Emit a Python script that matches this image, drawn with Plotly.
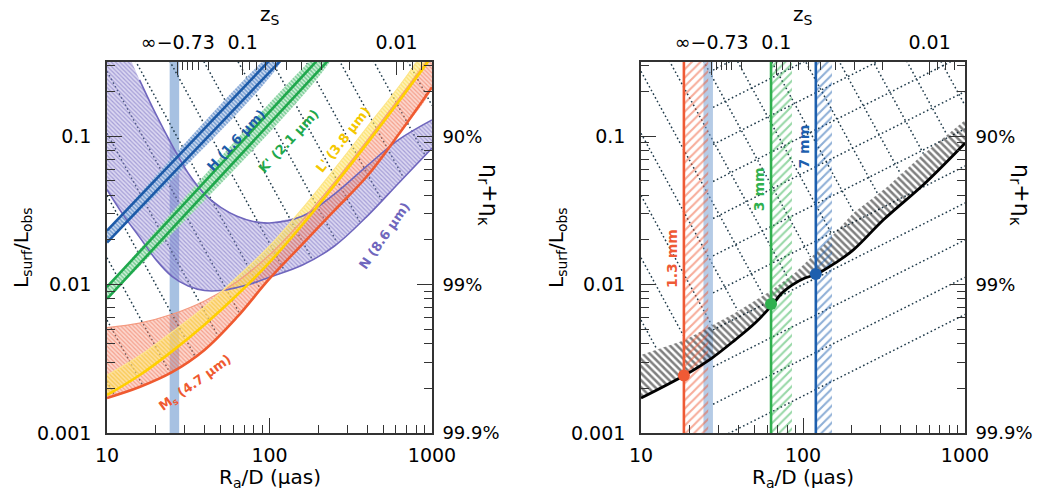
import numpy as np
import plotly.graph_objects as go

# ------------------------------------------------------------------ data
# left panel: band edges (R_a/D in micro-arcsec, L_surf/L_obs)
BAND_X = [10.0, 15.85, 25.12, 39.81, 63.10, 100.0, 158.5, 251.2, 398.1, 631.0, 1000.0]
MS_LOWER = [0.00172, 0.00204, 0.00257, 0.00363, 0.00603, 0.01096, 0.01862, 0.03162, 0.0537, 0.1047, 0.2138]
MS_UPPER = [0.00513, 0.00550, 0.00631, 0.00776, 0.01047, 0.01585, 0.02692, 0.04898, 0.0933, 0.1820, 0.3548]
LP_LOWER = [0.00180, 0.00245, 0.00355, 0.00537, 0.00851, 0.01413, 0.02512, 0.04677, 0.0891, 0.1738, 0.3467]
LP_UPPER = [0.00245, 0.00331, 0.00479, 0.00708, 0.01122, 0.01820, 0.03236, 0.06026, 0.1148, 0.2188, 0.4365]

N_X = [10.0, 12.59, 15.85, 19.95, 25.12, 31.62, 39.81, 50.12, 63.10, 79.43, 100.0, 158.5, 251.2, 398.1, 631.0, 1000.0]
N_OUTER = [0.04365, 0.02951, 0.02089, 0.01479, 0.01135, 0.00977, 0.00912, 0.00912, 0.00955, 0.01023, 0.01122,
           0.01349, 0.01820, 0.02884, 0.04898, 0.08318]
N_INNER = [0.7244, 0.4266, 0.2399, 0.1413, 0.0871, 0.05623, 0.04074, 0.03311, 0.02884, 0.02661, 0.02600,
           0.02884, 0.04074, 0.06310, 0.09550, 0.1288]

H_X = [10.0, 120.0]
H_LOWER = [0.01919, 0.3327]
H_UPPER = [0.02307, 0.3999]
K_X = [10.0, 250.0]
K_LOWER = [0.00802, 0.3581]
K_UPPER = [0.00964, 0.4305]

BLUE_BAND = [24.3, 27.8]

# right panel
CURVE_X = [10.0, 18.7, 27.4, 38.0, 50.6, 64.4, 74.1, 85.5, 102.8, 121.9, 157.8, 203.7, 316.2, 562.3, 1000.0]
CURVE_Y = [0.00172, 0.00246, 0.00320, 0.00423, 0.00551, 0.00728, 0.00877, 0.00993, 0.01107, 0.01178, 0.01396,
           0.01706, 0.02754, 0.04786, 0.0897]
HATCH_X = [10.0, 18.7, 38.0, 64.4, 89.3, 130.9, 203.7, 330.4, 527.2, 1000.0]
HATCH_UPPER = [0.00335, 0.00423, 0.00643, 0.00918, 0.01202, 0.01791, 0.03027, 0.04539, 0.07228, 0.1282]

MM_LABELS = ["1.3 mm", "3 mm", "7 mm"]
MM_LINE_X = [18.4, 63.5, 120.0]
MM_HATCH_END = [26.0, 85.5, 151.0]
MM_DOT_Y = [0.00244, 0.0074, 0.01178]
MM_LABEL_Y = [0.0151, 0.0440, 0.085]
MM_COLORS = ["#ef5a35", "#2fb04e", "#1d5fae"]

# dotted guide lines
STEEP_X_TOP = [0.84, 1.35, 2.19, 3.55, 5.75, 9.3, 15.1, 24.5, 39.6, 64.2, 104, 168, 272, 440, 714, 1157]
STEEP_SLOPE = -2.0
SHALLOW_Y_RIGHT = [2.0, 1.12, 0.63, 0.355, 0.2, 0.112, 0.063, 0.0355, 0.02, 0.0112, 0.0063]
SHALLOW_SLOPE = 0.55
SHALLOW_X_START = 27.8

# top (redshift) axis
Z_MAJOR_X = [27.3, 68.4, 605.0]
Z_MAJOR_TEXT = ["\u221e\u22120.73", "0.1", "0.01"]
Z_MINOR_X = [29.35, 31.5, 33.8, 36.4, 41.96, 75.0, 83.3, 93.9, 108.1, 128.1, 158.1, 208.2, 308.5, 672.0, 756.0, 862.0]

Y_TICKS = [0.001, 0.01, 0.1]
Y_TEXT = ["0.001", "0.01", "0.1"]
ETA_TEXT = ["99.9%", "99%", "90%"]
X_TICKS = [10, 100, 1000]

# band labels: text, x, y, angle, colour
BAND_LABELS = [
    ("H (1.6 \u03bcm)", 61.8, 0.094, -47, "#1c5aa8"),
    ("K' (2.1 \u03bcm)", 130.0, 0.0925, -47, "#1fa84c"),
    ("L' (3.8 \u03bcm)", 283.0, 0.0955, -52, "#f5c800"),
    ("N (8.6 \u03bcm)", 509.0, 0.0215, -55, "#6f66bd"),
    ("M<sub>s</sub> (4.7 \u03bcm)", 35.0, 0.00215, -36, "#ef5a30"),
]

# ------------------------------------------------------------------ helpers
W, H = 1037, 498
LREF = 10 ** -0.5
FONT = "DejaVu Sans"
DOT = "#1f3a4a"
DOTDASH = "1.6px,2.6px"


def ilog(xq, xp, yp):
    return 10 ** np.interp(np.log10(xq), np.log10(xp), np.log10(yp))


lx = np.linspace(1, 3, 500)
xs = 10 ** lx

fig = go.Figure()


def add(tr, panel):
    if panel == 1:
        tr.update(xaxis="x", yaxis="y")
    else:
        tr.update(xaxis="x2", yaxis="y2")
    tr.update(showlegend=False, hoverinfo="skip")
    fig.add_trace(tr)


def poly(x, y, fg, bg, panel, shape="\\", size=4, sol=0.35, spline=True):
    add(go.Scatter(x=x, y=y, mode="lines", fill="toself",
                   line=dict(width=0, shape="spline" if spline else "linear"),
                   fillcolor=bg,
                   fillpattern=dict(shape=shape, fgcolor=fg, bgcolor=bg, size=size, solidity=sol)), panel)


def band(xp, lo, hi, fg, bg, panel, **kw):
    poly(list(xp) + list(xp)[::-1], list(lo) + list(hi)[::-1], fg, bg, panel, **kw)


def edge(xp, yp, color, width, panel):
    add(go.Scatter(x=xp, y=yp, mode="lines",
                   line=dict(color=color, width=width, shape="spline")), panel)


def dotted(segs, panel):
    xx, yy = [], []
    for sx, sy in segs:
        xx += list(sx) + [None]
        yy += list(sy) + [None]
    add(go.Scatter(x=xx, y=yy, mode="lines", connectgaps=False,
                   line=dict(color=DOT, width=1.5, dash=DOTDASH)), panel)


# ------------------------------------------------------------------ left panel
add(go.Scatter(x=[BLUE_BAND[0], BLUE_BAND[1], BLUE_BAND[1], BLUE_BAND[0]], y=[1e-4, 1e-4, 10, 10],
               mode="lines", fill="toself", line=dict(width=0), fillcolor="rgba(120,160,210,0.65)"), 1)

env = np.minimum(np.minimum(ilog(xs, BAND_X, MS_LOWER), ilog(xs, BAND_X, LP_LOWER)), ilog(xs, N_X, N_OUTER))
segs = []
for xt in STEEP_X_TOP:
    y = LREF * (xs / xt) ** STEEP_SLOPE
    y = np.where(y < env, np.nan, y)
    segs.append((xs, y))
dotted(segs, 1)

poly(list(N_X) + list(N_X)[::-1], list(N_OUTER) + list(N_INNER)[::-1],
     "#6f66bd", "rgba(150,140,215,0.35)", 1, size=3, sol=0.4, spline=False)
band(BAND_X, MS_LOWER, MS_UPPER, "#ee6a4a", "rgba(245,140,115,0.35)", 1, size=3, sol=0.4)
band(BAND_X, LP_LOWER, LP_UPPER, "#f8d22a", "rgba(255,230,120,0.55)", 1, size=3, sol=0.4)
band(H_X, H_LOWER, H_UPPER, "#1f5fae", "rgba(200,215,240,0.9)", 1, size=3, sol=0.5)
band(K_X, K_LOWER, K_UPPER, "#22a650", "rgba(205,240,215,0.9)", 1, size=3, sol=0.5)

edge(N_X, N_OUTER, "#6f66bd", 1.6, 1)
edge(N_X[2:], N_INNER[2:], "#6f66bd", 1.6, 1)
edge(BAND_X, MS_UPPER, "#f49a80", 1.2, 1)
edge(BAND_X, LP_UPPER, "#fde58a", 1.2, 1)
edge(BAND_X, MS_LOWER, "#ef5a30", 2.6, 1)
edge(BAND_X, LP_LOWER, "#ffd000", 2.6, 1)
for xp, yl, yu, c in [(H_X, H_LOWER, H_UPPER, "#1c5aa8"), (K_X, K_LOWER, K_UPPER, "#1fa84c")]:
    edge(xp, yl, c, 2.6, 1)
    edge(xp, yu, c, 2.6, 1)

# ------------------------------------------------------------------ right panel
segs = []
for yr in SHALLOW_Y_RIGHT:
    y = yr * (xs / 1000.0) ** SHALLOW_SLOPE
    y = np.where(xs < SHALLOW_X_START, np.nan, y)
    segs.append((xs, y))
dotted(segs, 2)
env2 = ilog(xs, HATCH_X, HATCH_UPPER)
segs = []
for xt in STEEP_X_TOP:
    y = LREF * (xs / xt) ** STEEP_SLOPE
    y = np.where(y < env2, np.nan, y)
    segs.append((xs, y))
dotted(segs, 2)

add(go.Scatter(x=[BLUE_BAND[0], BLUE_BAND[1], BLUE_BAND[1], BLUE_BAND[0]], y=[1e-4, 1e-4, 10, 10],
               mode="lines", fill="toself", line=dict(width=0), fillcolor="rgba(120,160,210,0.55)"), 2)

hx = list(CURVE_X) + list(HATCH_X)[::-1]
hy = list(CURVE_Y) + list(HATCH_UPPER)[::-1]
add(go.Scatter(x=hx, y=hy, mode="lines", fill="toself", line=dict(width=0),
               fillcolor="rgba(0,0,0,0)",
               fillpattern=dict(shape="\\", fgcolor="#000000", bgcolor="rgba(0,0,0,0)", size=5, solidity=0.5)), 2)

for x0, x1, c in zip(MM_LINE_X, MM_HATCH_END, MM_COLORS):
    add(go.Scatter(x=[x0, x1, x1, x0], y=[1e-4, 1e-4, 10, 10], mode="lines", fill="toself",
                   line=dict(width=0), fillcolor="rgba(0,0,0,0)",
                   fillpattern=dict(shape="/", fgcolor=c, bgcolor="rgba(0,0,0,0)", size=6, solidity=0.35)), 2)
    add(go.Scatter(x=[x0, x0], y=[1e-4, 10], mode="lines", line=dict(color=c, width=2.6)), 2)

edge(CURVE_X, CURVE_Y, "#000000", 2.8, 2)
add(go.Scatter(x=MM_LINE_X, y=MM_DOT_Y, mode="markers",
               marker=dict(size=12, color=MM_COLORS, line=dict(width=0))), 2)

for xa, ya in [("x3", "y"), ("x", "y3"), ("x4", "y2"), ("x2", "y4")]:
    fig.add_trace(go.Scatter(x=[None], y=[None], xaxis=xa, yaxis=ya, showlegend=False, hoverinfo="skip"))

# ------------------------------------------------------------------ axes
tickfont = dict(family=FONT, size=19, color="black")
LC = "#333333"
x_minor = [v * m for v in (10, 100) for m in range(2, 10)]
y_minor = [v * m for v in (0.001, 0.01, 0.1) for m in range(2, 10)]
common = dict(type="log", showgrid=False, zeroline=False, automargin=False, showline=True, linecolor=LC,
              linewidth=1.6, tickcolor=LC, tickwidth=1.4, ticks="inside", tickfont=tickfont)


def minor(vals):
    return dict(tickmode="array", tickvals=vals, ticks="inside", ticklen=8, tickcolor=LC, tickwidth=1.3,
                showgrid=False)


def xaxis_bottom(dom, anchor):
    return dict(common, domain=dom, anchor=anchor, range=[1, 3], tickvals=X_TICKS,
                ticktext=[str(v) for v in X_TICKS], ticklen=15, ticklabelstandoff=4, minor=minor(x_minor))


def xaxis_top(over, anchor):
    return dict(common, overlaying=over, anchor=anchor, side="top", range=[1, 3], tickvals=Z_MAJOR_X,
                ticktext=Z_MAJOR_TEXT, ticklen=13, ticklabelstandoff=4, minor=minor(Z_MINOR_X))


def yaxis_left(dom, anchor):
    return dict(common, domain=dom, anchor=anchor, range=[-3, -0.5], tickvals=Y_TICKS, ticktext=Y_TEXT,
                ticklen=15, ticklabelstandoff=10, minor=minor(y_minor))


def yaxis_right(over, anchor):
    return dict(common, overlaying=over, anchor=anchor, side="right", range=[-3, -0.5], tickvals=Y_TICKS,
                ticktext=ETA_TEXT, ticklen=15, ticklabelstandoff=5, minor=minor(y_minor),
                tickfont=dict(family=FONT, size=18, color="black"))


ydom = [1 - 433 / H, 1 - 62 / H]
fig.update_layout(
    width=W, height=H, margin=dict(l=0, r=0, t=0, b=0, pad=0, autoexpand=False),
    paper_bgcolor="white", plot_bgcolor="white", showlegend=False,
    xaxis=xaxis_bottom([107 / W, 432 / W], "y"),
    yaxis=yaxis_left(ydom, "x"),
    xaxis2=xaxis_bottom([641 / W, 965 / W], "y2"),
    yaxis2=yaxis_left(ydom, "x2"),
    xaxis3=xaxis_top("x", "y"),
    yaxis3=yaxis_right("y", "x"),
    xaxis4=xaxis_top("x2", "y2"),
    yaxis4=yaxis_right("y2", "x2"),
)

# ------------------------------------------------------------------ annotations
ann = []
titlefont = dict(family=FONT, size=20, color="black")
for cx, lx_t, rx_t in [(269.5, 22, 489), (803, 557, 1021)]:
    ann.append(dict(xref="paper", yref="paper", x=cx / W, y=1 - 15 / H, text="z<sub>S</sub>",
                    xanchor="center", yanchor="middle", showarrow=False, font=titlefont))
    ann.append(dict(xref="paper", yref="paper", x=cx / W, y=1 - 478 / H, text="R<sub>a</sub>/D (\u03bcas)",
                    xanchor="center", yanchor="middle", showarrow=False, font=titlefont))
    ann.append(dict(xref="paper", yref="paper", x=lx_t / W, y=1 - 248 / H,
                    text="L<sub>surf</sub>/L<sub>obs</sub>", textangle=-90, xanchor="center",
                    yanchor="middle", showarrow=False, font=titlefont))
    ann.append(dict(xref="paper", yref="paper", x=rx_t / W, y=1 - 195 / H,
                    text="\u03b7<sub>r</sub>+\u03b7<sub>\u03ba</sub>", textangle=90, xanchor="center",
                    yanchor="middle", showarrow=False, font=dict(family=FONT, size=22, color="black")))

for t, x, y, ang, c in BAND_LABELS:
    ann.append(dict(xref="x", yref="y", x=np.log10(x), y=np.log10(y), text="<b>" + t + "</b>",
                    textangle=ang, showarrow=False, font=dict(family=FONT, size=13, color=c)))
for t, x0, ylab, c in zip(MM_LABELS, MM_LINE_X, MM_LABEL_Y, MM_COLORS):
    ann.append(dict(xref="x2", yref="y2", x=np.log10(x0), y=np.log10(ylab), xanchor="right", xshift=-2,
                    text="<b>" + t + "</b>", textangle=-90, showarrow=False,
                    font=dict(family=FONT, size=14, color=c)))
fig.update_layout(annotations=ann)

fig.write_html("out.html")
